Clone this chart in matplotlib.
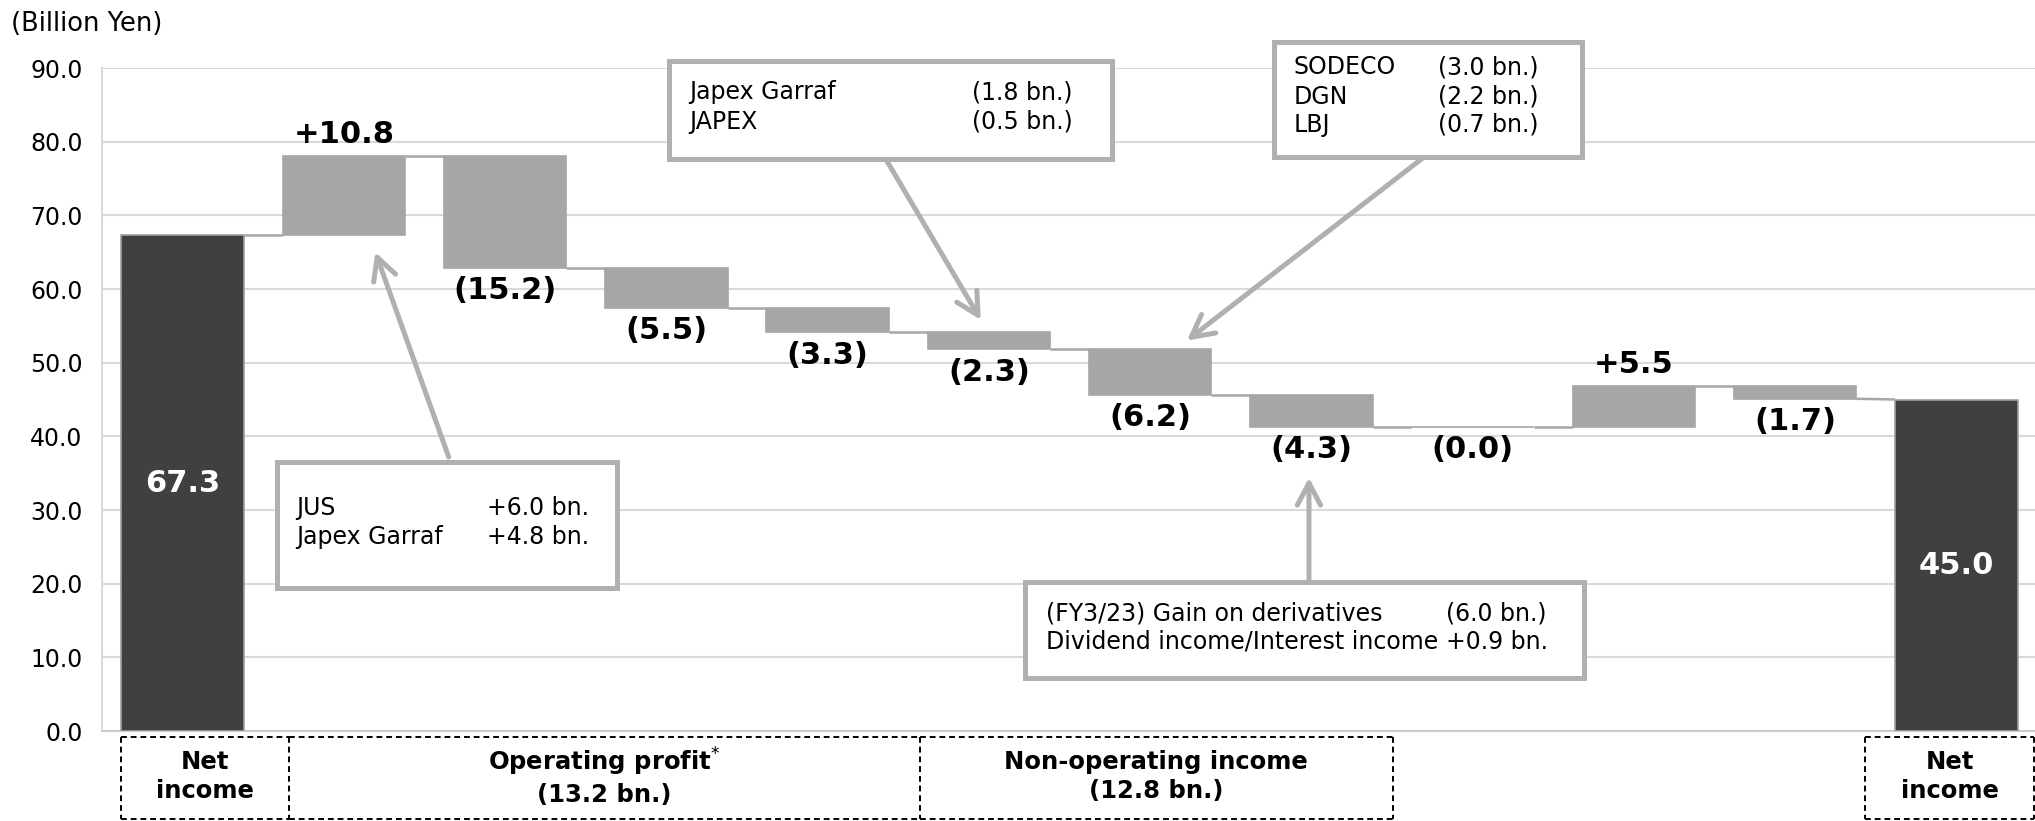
import matplotlib
matplotlib.use('Agg')
import matplotlib.pyplot as plt
import matplotlib.transforms as mtransforms
from matplotlib.patches import Rectangle
import numpy as np

plt.rcParams['font.family'] = ['DejaVu Sans']

# ---------------- data ----------------
start_label = 'Net income (FY3/23)'
start_value = 67.3
step_labels = ['JUS / Japex Garraf', 'Step 2', 'Step 3', 'Step 4', 'Japex Garraf / JAPEX',
               'SODECO / DGN / LBJ', 'Derivatives / Dividend', 'Step 8', 'Step 9', 'Step 10']
step_values = [10.8, -15.2, -5.5, -3.3, -2.3, -6.2, -4.3, -0.0, 5.5, -1.7]
end_label = 'Net income (FY3/24)'
end_value = 45.0
y_ticks = [0, 10, 20, 30, 40, 50, 60, 70, 80, 90]

group_labels = ['Net\nincome', 'Operating profit$^{*}$\n(13.2 bn.)',
                'Non-operating income\n(12.8 bn.)', 'Net\nincome']

note1_names = ['JUS', 'Japex Garraf']
note1_values = ['+6.0 bn.', '+4.8 bn.']
note2_names = ['Japex Garraf', 'JAPEX']
note2_values = ['(1.8 bn.)', '(0.5 bn.)']
note3_names = ['SODECO', 'DGN', 'LBJ']
note3_values = ['(3.0 bn.)', '(2.2 bn.)', '(0.7 bn.)']
note4_names = ['(FY3/23) Gain on derivatives', 'Dividend income/Interest income']
note4_values = ['(6.0 bn.)', '+0.9 bn.']

# ---------------- styles ----------------
DARK = '#404040'
LIGHT = '#a6a6a6'
BOXC = '#b0b0b0'
GRID = '#d9d9d9'
W = 0.76
LBL = 22
NOTE = 17

fig = plt.figure(figsize=(20.35, 8.21), dpi=100)
ax = fig.add_axes([102 / 2035, 90 / 821, 1935 / 2035, 663 / 821])

n = len(step_values) + 2
x = np.arange(n)

# compute bars
bottoms, heights, colors, levels, starts = [], [], [], [], []
bottoms.append(0); heights.append(start_value); colors.append(DARK)
levels.append(start_value); starts.append(start_value)
cum = start_value
for v in step_values:
    starts.append(cum)
    new = cum + v
    bottoms.append(min(cum, new)); heights.append(abs(v)); colors.append(LIGHT)
    cum = new
    levels.append(cum)
bottoms.append(0); heights.append(end_value); colors.append(DARK)
levels.append(end_value); starts.append(end_value)

edgecols = ['#a0a0a0' if c == DARK else LIGHT for c in colors]
ax.bar(x, heights, bottom=bottoms, width=W, color=colors, edgecolor=edgecols,
       linewidth=1.2, zorder=3)

# connectors
for i in range(n - 1):
    ax.plot([x[i] + W / 2, x[i + 1] - W / 2], [levels[i], starts[i + 1]],
            color=LIGHT, lw=1.8, zorder=2, solid_capstyle='butt')

# value labels
ax.text(x[0], start_value / 2, f'{start_value:.1f}', color='white', fontsize=LBL,
        fontweight='bold', ha='center', va='center', zorder=4)
ax.text(x[-1], end_value / 2, f'{end_value:.1f}', color='white', fontsize=LBL,
        fontweight='bold', ha='center', va='center', zorder=4)
for i, v in enumerate(step_values):
    xi = x[i + 1]
    if np.signbit(v):
        ax.annotate(f'({abs(v):.1f})', xy=(xi, bottoms[i + 1]), xytext=(0, -6),
                    textcoords='offset points', ha='center', va='top',
                    fontsize=LBL, fontweight='bold', zorder=4)
    else:
        ax.annotate(f'+{v:.1f}', xy=(xi, bottoms[i + 1] + heights[i + 1]), xytext=(0, 5),
                    textcoords='offset points', ha='center', va='bottom',
                    fontsize=LBL, fontweight='bold', zorder=4)

# axes styling
ax.set_xlim(-0.5, 11.5)
ax.set_ylim(0, 90)
ax.set_yticks(y_ticks)
ax.set_yticklabels([f'{t:.1f}' for t in y_ticks])
ax.yaxis.grid(True, color=GRID, lw=1.5, zorder=0)
ax.set_axisbelow(True)
ax.set_xticks([])
ax.tick_params(axis='y', length=0, pad=14, labelsize=17)
for s in ['top', 'right']:
    ax.spines[s].set_visible(False)
ax.spines['left'].set_color(GRID)
ax.spines['left'].set_linewidth(1.5)
ax.spines['bottom'].set_color('#cccccc')
ax.spines['bottom'].set_linewidth(1.5)

fig.text(11 / 2035, 1 - 24 / 821, '(Billion Yen)', fontsize=18.5, va='center', ha='left')

# annotation boxes
def note_box(x0, x1, y0, y1, tx, vx, ys, names, vals):
    ax.add_patch(Rectangle((x0, y0), x1 - x0, y1 - y0, facecolor='white',
                           edgecolor=BOXC, lw=3.6, zorder=6, clip_on=False))
    for yy, nm, vl in zip(ys, names, vals):
        ax.text(tx, yy, nm, fontsize=NOTE, ha='left', va='center', zorder=7, clip_on=False)
        ax.text(vx, yy, vl, fontsize=NOTE, ha='left', va='center', zorder=7, clip_on=False)

def arrow(base, tip):
    ax.annotate('', xy=tip, xytext=base, zorder=5, annotation_clip=False,
                arrowprops=dict(arrowstyle='->,head_length=0.8,head_width=0.42',
                                color=BOXC, lw=3.6, shrinkA=0, shrinkB=0,
                                mutation_scale=20))

note_box(0.583, 2.692, 19.4, 36.5, 0.707, 1.886, [30.3, 26.4], note1_names, note1_values)
arrow((1.650, 37.2), (1.195, 65.0))

note_box(3.015, 5.763, 77.6, 90.9, 3.139, 4.895, [86.7, 82.7], note2_names, note2_values)
arrow((4.367, 77.4), (4.950, 55.8))

note_box(6.768, 8.679, 77.9, 93.5, 6.892, 7.785, [90.1, 86.1, 82.3], note3_names, note3_values)
arrow((7.686, 77.7), (6.228, 53.0))

note_box(5.223, 8.691, 7.2, 20.2, 5.353, 7.835, [15.9, 12.1], note4_names, note4_values)
arrow((6.985, 20.3), (6.985, 34.4))

# bottom dashed group boxes (drawn as separate segments so shared edges stay dashed)
trans = mtransforms.blended_transform_factory(ax.transData, fig.transFigure)
group_spans = [(-0.38, 0.66), (0.66, 4.57), (4.57, 7.506), (10.434, 11.48)]
gy0, gy1 = 0.003, 0.102
dash = dict(color='black', lw=1.4, linestyle=(0, (3, 2)), transform=trans,
            clip_on=False, zorder=5)
vert_edges = sorted(set([g for span in group_spans for g in span]))
for g0, g1 in group_spans:
    ax.plot([g0, g1], [gy1, gy1], **dash)
    ax.plot([g0, g1], [gy0, gy0], **dash)
for ve in vert_edges:
    ax.plot([ve, ve], [gy1, gy0], **dash)
for (g0, g1), lbl in zip(group_spans, group_labels):
    ax.text((g0 + g1) / 2, 0.054, lbl, transform=trans, ha='center', va='center',
            fontsize=17.5, fontweight='bold', linespacing=1.25, clip_on=False)

fig.savefig('out.png', dpi=100)
